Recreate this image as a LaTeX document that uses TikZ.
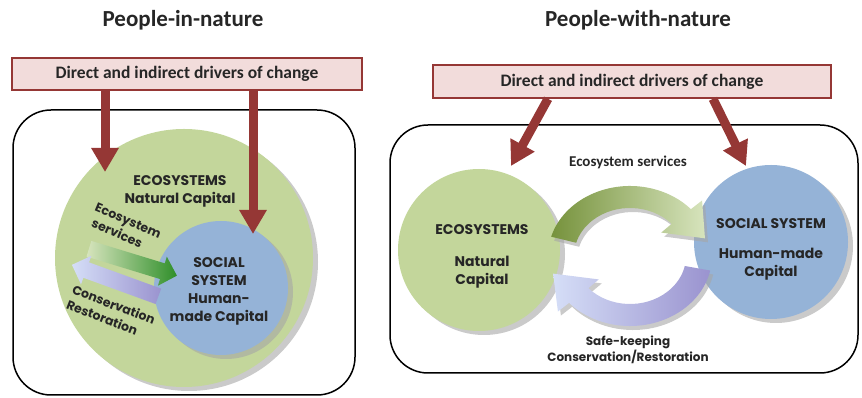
\documentclass[tikz,border=0pt]{standalone}
\usepackage{fontspec}
\setmainfont{Carlito}
\newfontfamily\gothic{Poppins}
\usetikzlibrary{arrows.meta,shapes.arrows,shadows}

\definecolor{drvred}{HTML}{953735}
\definecolor{drvfill}{HTML}{F2DCDB}
\definecolor{ecogreen}{HTML}{C3D69B}
\definecolor{socblue}{HTML}{95B3D7}
\definecolor{olivedark}{HTML}{76923C}
\definecolor{olivelight}{HTML}{D7E4BD}
\definecolor{leafgreen}{HTML}{2F8F2A}
\definecolor{lavlight}{HTML}{D5DEF7}
\definecolor{lavdark}{HTML}{9A93CF}

\begin{document}
\begin{tikzpicture}[x=1pt,y=1pt,
    title/.style={font=\fontsize{23}{26}\selectfont\bfseries, text=black!85},
    drivers/.style={draw=drvred, line width=1.6pt, fill=drvfill, inner sep=0pt,
      font=\fontsize{17.5}{20}\selectfont\bfseries, text=black!85},
    panel/.style={draw=black, line width=1.5pt, rounded corners=38pt, inner sep=0pt},
    drvarrow/.style={draw=drvred, line width=9pt, -{Triangle[width=26pt,length=24pt]}},
    blob/.style={circle, inner sep=0pt,
      drop shadow={shadow xshift=5pt, shadow yshift=-4pt, fill=black!35, opacity=0.6}},
    captext/.style={font=\gothic\bfseries\fontsize{14}{18}\selectfont, text=black!85, align=center},
    flowtext/.style={font=\gothic\bfseries\fontsize{12.5}{16}\selectfont, text=black!85, align=left},
    blockarrow/.style={single arrow, inner xsep=0pt, inner ysep=8pt,
      single arrow head extend=7pt, minimum height=92pt},
    ringarrow/.style={drop shadow={shadow xshift=3pt, shadow yshift=-4pt, fill=black!35, opacity=0.6}}
  ]
  \useasboundingbox (0,0) rectangle (862,398);

  % People-in-nature
  \node[title] (titleL) at (183,378) {People-in-nature};
  \node[panel, minimum width=342pt, minimum height=285pt] (frameL) at (184,145.5) {};
  \node[blob, fill=ecogreen, minimum size=258pt] (ecoL) at (184,140) {};
  \node[blob, fill=socblue, minimum size=134pt] (socL) at (221,110) {};

  \node[blockarrow, rotate=-17, left color=olivelight, right color=leafgreen] (svcL) at (129,137) {};
  \node[blockarrow, rotate=160, left color=lavlight, right color=lavdark] (consL) at (119,116) {};

  \node[captext] (ecoLtext) at (180,207) {ECOSYSTEMS\\Natural Capital};
  \node[captext] (socLtext) at (219,107) {SOCIAL\\SYSTEM\\Human-\\made Capital};
  \node[flowtext, rotate=-23] (svcLtext) at (125,170) {Ecosystem\\\hspace*{3pt}services};
  \node[flowtext, rotate=-21] (consLtext) at (111,86) {Conservation\\Restoration};

  \node[drivers, minimum width=350pt, minimum height=32pt] (drvL) at (187,324)
    {Direct and indirect drivers of change};
  \coordinate (tipA) at (105,226);
  \coordinate (tipB) at (253,164);
  \draw[drvarrow] ([xshift=-82pt]drvL.south) -- (tipA);
  \draw[drvarrow] ([xshift=66pt]drvL.south) -- (tipB);

  % People-with-nature
  \node[title] (titleR) at (638,378) {People-with-nature};
  \node[panel, minimum width=468pt, minimum height=248pt] (frameR) at (624,149) {};
  \node[blob, fill=ecogreen, minimum size=162pt] (ecoR) at (479,148) {};
  \node[blob, fill=socblue, minimum size=154pt] (socR) at (771,156) {};

  \coordinate (ring) at (630,142);
  \path[ringarrow, left color=olivedark, right color=olivelight]
    ([shift={(164:82 and 70)}]ring) arc[start angle=164, end angle=42, x radius=82, y radius=70]
    -- ([shift={(42:97 and 83)}]ring) -- ([shift={(16:78 and 64)}]ring)
    -- ([shift={(42:42 and 35)}]ring) -- ([shift={(42:56 and 48)}]ring)
    arc[start angle=42, end angle=164, x radius=56, y radius=48] -- cycle;
  \path[ringarrow, left color=lavlight, right color=lavdark]
    ([shift={(-12:82 and 70)}]ring) arc[start angle=-12, end angle=-138, x radius=82, y radius=70]
    -- ([shift={(-138:97 and 83)}]ring) -- ([shift={(-164:80 and 64)}]ring)
    -- ([shift={(-138:42 and 35)}]ring) -- ([shift={(-138:56 and 48)}]ring)
    arc[start angle=-138, end angle=-12, x radius=56, y radius=48] -- cycle;

  \node[captext] (ecoRtext) at (482,142) {ECOSYSTEMS\\[14pt]Natural\\Capital};
  \node[captext] (socRtext) at (771,149) {SOCIAL SYSTEM\\[12pt]Human-made\\Capital};
  \node[font=\fontsize{15}{18}\selectfont\bfseries, text=black!85] (svcR) at (628,236) {Ecosystem services};
  \node[font=\gothic\bfseries\fontsize{12}{14.5}\selectfont, text=black!85, align=center] (consR) at (628,48)
    {Safe-keeping\\Conservation/Restoration};

  \node[drivers, minimum width=398pt, minimum height=33pt] (drvR) at (632,316.5)
    {Direct and indirect drivers of change};
  \coordinate (tipC) at (511,232);
  \coordinate (tipD) at (746,232);
  \draw[drvarrow] ([xshift=-84pt]drvR.south) -- (tipC);
  \draw[drvarrow] ([xshift=81pt]drvR.south) -- (tipD);
\end{tikzpicture}
\end{document}
